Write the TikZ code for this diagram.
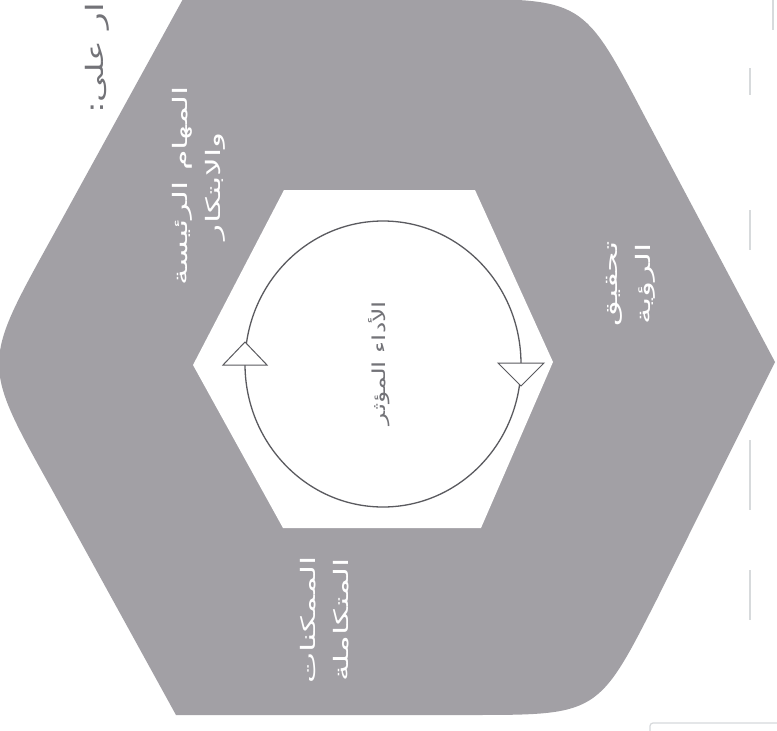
\documentclass[tikz,border=0pt]{standalone}
\usepackage{graphicx}
\usepackage{fontspec}
\newfontfamily\arabicfont[Script=Arabic]{DejaVu Sans}
\TeXXeTstate=1
\definecolor{outerfill}{RGB}{162,160,165}
\definecolor{lineclr}{RGB}{90,90,95}
\definecolor{midtxt}{RGB}{115,115,120}
\definecolor{artifact}{RGB}{215,218,220}
\newcommand{\wline}[1]{\scalebox{1.75}[1.05]{\beginR #1\endR}}
\begin{document}
\begin{tikzpicture}[x=1pt,y=-1pt,
  whitetxt/.style={text=white, font=\arabicfont\fontsize{19}{33}\selectfont, align=center, rotate=90, inner sep=0pt},
  centertxt/.style={text=midtxt, font=\arabicfont\fontsize{17}{20}\selectfont, rotate=90, inner sep=0pt},
  headtxt/.style={text=midtxt, font=\arabicfont\fontsize{24}{28}\selectfont, rotate=90, inner sep=0pt},
  cycline/.style={draw=lineclr, line width=1.3pt},
  tip/.style={draw=lineclr, fill=white, line width=1pt, line join=miter}]
\useasboundingbox (0,0) rectangle (777,731);
\fill[white] (0,0) rectangle (777,731);
% outer rounded hexagon
\fill[outerfill] (183,-1) -- (453,-1) .. controls (583,-1) .. (644,115) -- (775,362)
  -- (657,599) .. controls (598,715) .. (468,715) -- (176,715)
  -- (50,486) .. controls (-18,364) .. (50,241) -- cycle;
% inner white hexagon
\fill[white] (284,190) -- (475,190) -- (553,362) -- (481,528) -- (283,528) -- (193,365) -- cycle;
% cycle
\draw[cycline] (383,364) ellipse [x radius=138, y radius=143];
\filldraw[tip] (245,342) -- (223,365) -- (267,365) -- cycle;
\filldraw[tip] (521,386) -- (498,363) -- (544,363) -- cycle;
% texts
\node[whitetxt] (t1) at (199,186) {\wline{المهام الرئيسة}\\\wline{والابتكار}};
\node[whitetxt] (t2) at (631,284) {\wline{تحقيق}\\\wline{الرؤية}};
\node[whitetxt] (t3) at (325,620) {\wline{الممكنات}\\\wline{المتكاملة}};
\node[centertxt] (c) at (379,363) {\scalebox{1.5}[1.05]{\beginR الأداء المؤثر\endR}};
\node[headtxt, anchor=east] (h) at (97,3) {\scalebox{1.45}[1]{\beginR ار على:\endR}};
% scan artifacts
\draw[artifact, line width=1.2pt] (750,68) -- (750,95);
\draw[artifact, line width=1.2pt] (750,210) -- (750,250);
\draw[artifact, line width=1.2pt] (750,440) -- (750,510);
\draw[artifact, line width=1.2pt] (750,570) -- (750,620);
\draw[artifact, line width=1.2pt] (773,0) -- (773,30);
\draw[artifact, line width=1.2pt, rounded corners=3pt] (650,735) -- (650,723) -- (780,723);
\end{tikzpicture}
\end{document}
